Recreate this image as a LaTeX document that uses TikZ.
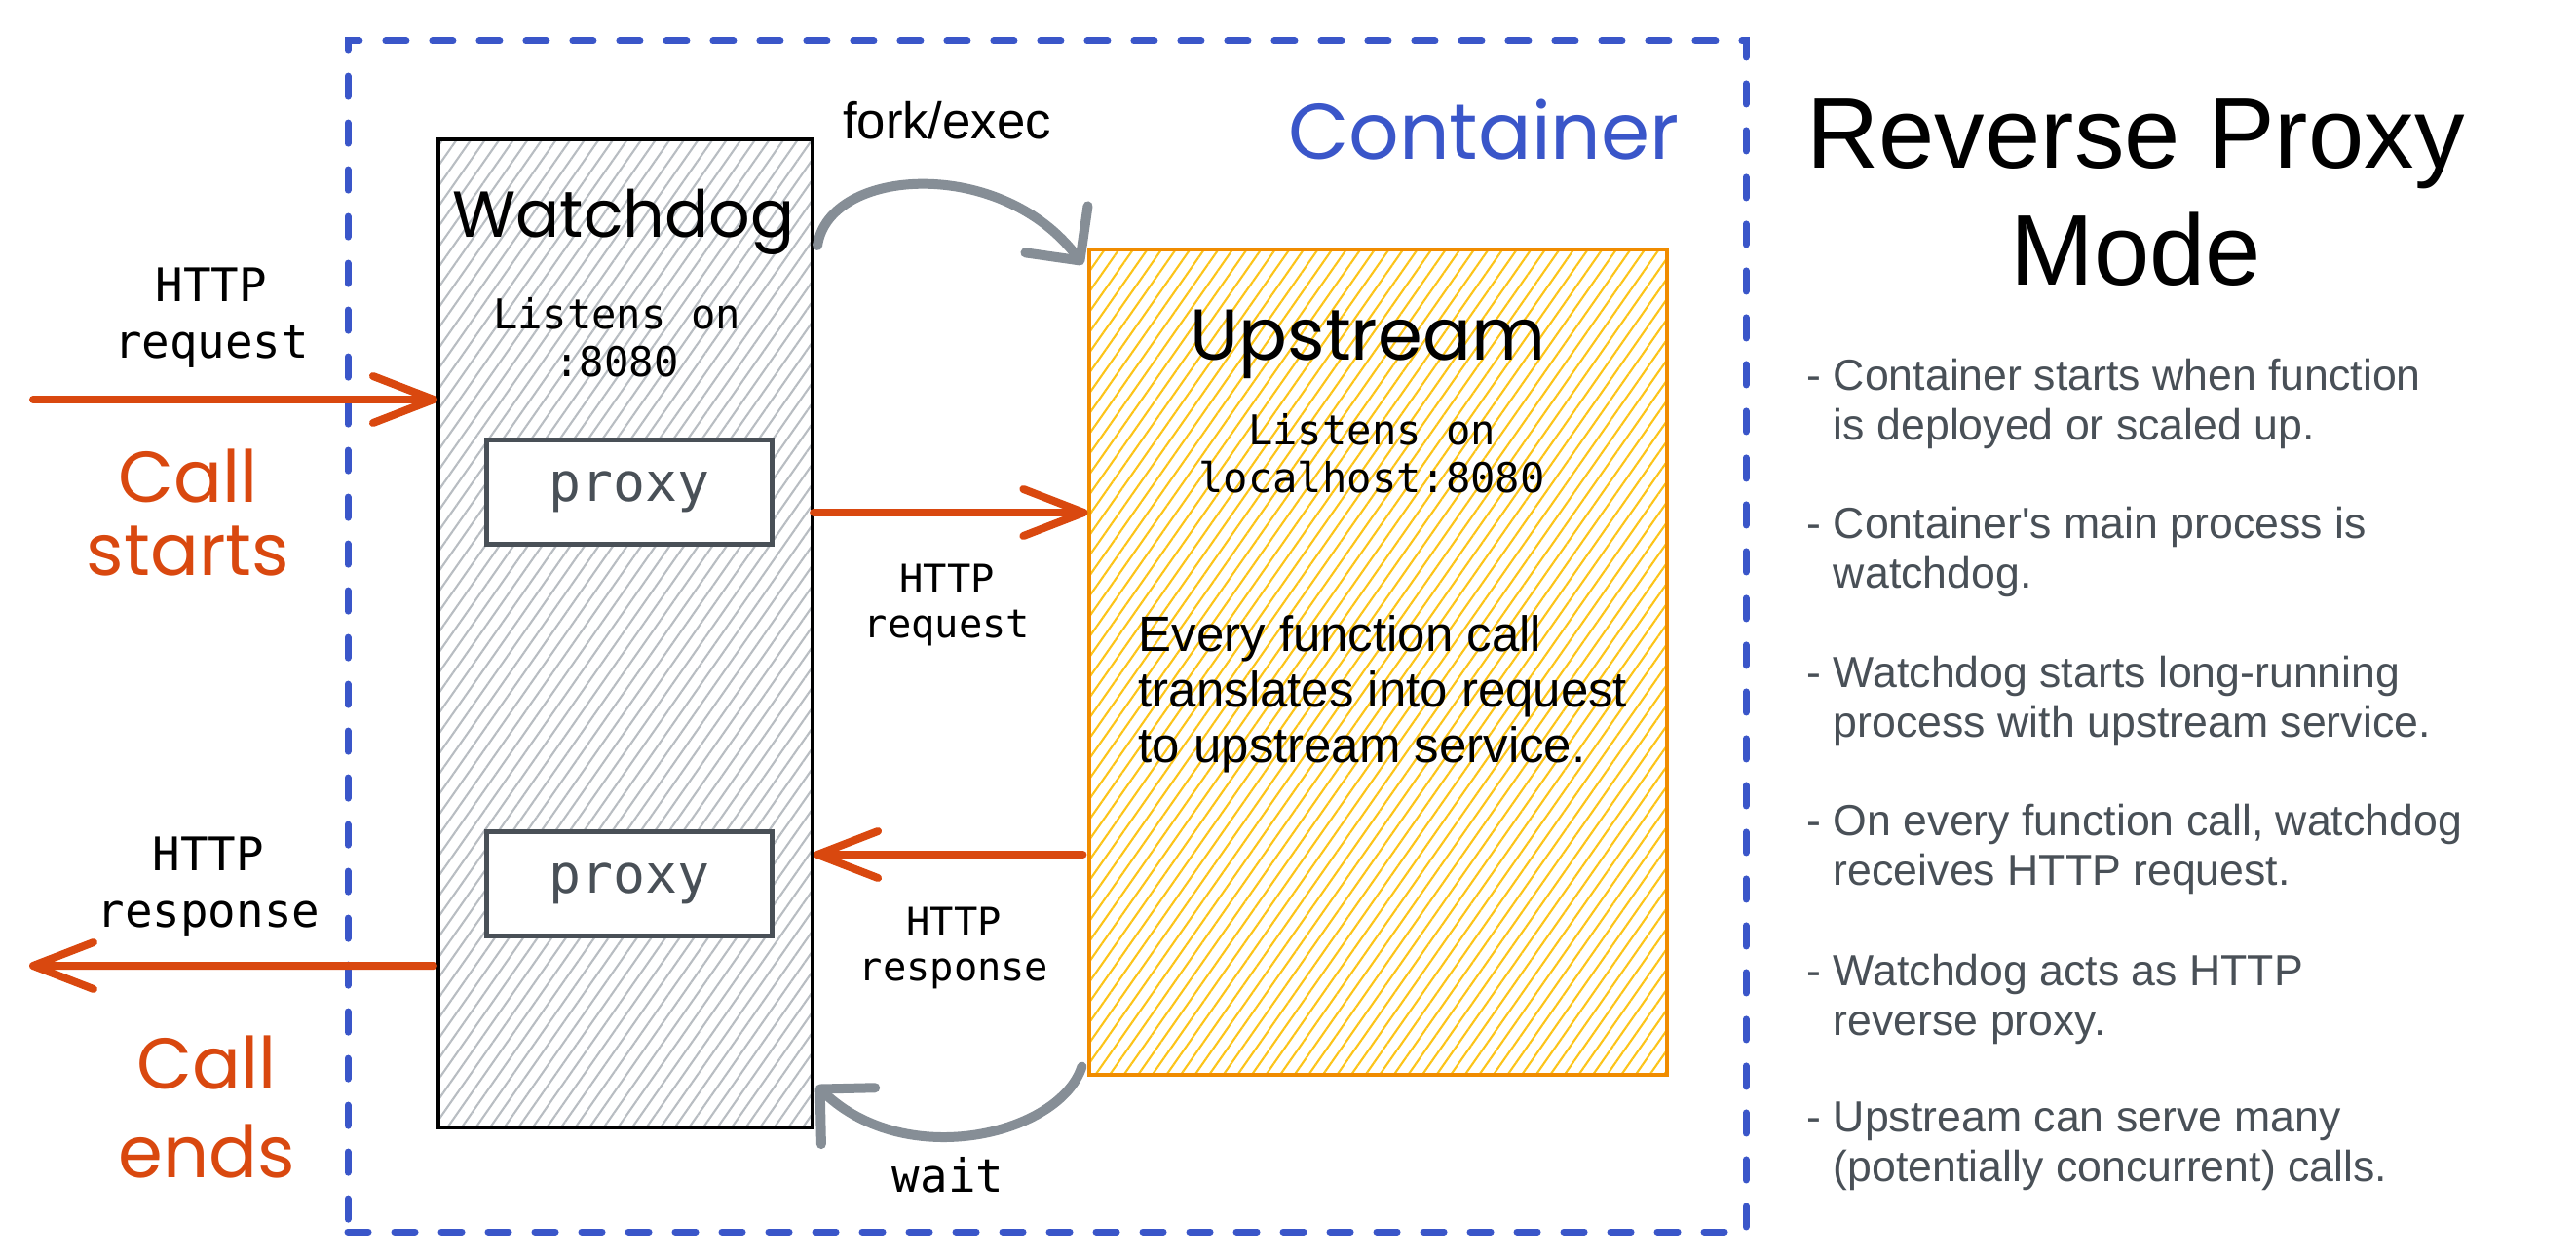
\documentclass[tikz,border=0pt]{standalone}
\usepackage{fontspec}
\setmainfont{Liberation Sans}
\setmonofont{DejaVu Sans Mono}
\newfontfamily\handfont{Poppins}
\usetikzlibrary{arrows.meta,patterns.meta,calc}
\definecolor{ctblue}{HTML}{3A56C9}
\definecolor{callred}{HTML}{D9480F}
\definecolor{arcgray}{HTML}{868E96}
\definecolor{notegray}{HTML}{495057}
\definecolor{upedge}{HTML}{F08C00}
\definecolor{uphatch}{HTML}{FCC419}
\definecolor{wdhatch}{HTML}{B8BDC2}

\begin{document}
\begin{tikzpicture}[
    callarrow/.style={draw=callred, line width=0.08cm, line cap=round,
      -{Straight Barb[round, length=0.62cm, width=0.48cm]}},
    turnarrow/.style={draw=arcgray, line width=0.1cm, line cap=round,
      -{Straight Barb[round, length=0.4cm, width=0.8cm]}},
    httplbl/.style={font=\ttfamily\fontsize{13.5pt}{16.5pt}\selectfont, align=center, inner sep=0},
    smalllbl/.style={font=\ttfamily\fontsize{11.5pt}{13pt}\selectfont, align=center, inner sep=0},
    listen/.style={font=\ttfamily\fontsize{12pt}{14pt}\selectfont, align=center, inner sep=0},
    hand/.style={font=\handfont\fontsize{#1}{#1}\selectfont, inner sep=0},
    callnote/.style={font=\handfont\fontsize{21pt}{21.5pt}\selectfont, text=callred, align=center, inner sep=0},
    proxybox/.style={draw=notegray, line width=1.3pt, fill=white, minimum width=2.93cm,
      minimum height=1.07cm, text=notegray, font=\ttfamily\fontsize{15.6pt}{18pt}\selectfont},
    note/.style={font=\fontsize{12.7pt}{14.5pt}\selectfont, text=notegray, align=left, inner sep=0, anchor=west}
  ]
  \useasboundingbox (0,0) rectangle (26.44,12.92);

  % container
  \node[draw=ctblue, line width=0.07cm, dash pattern=on 0.21cm off 0.27cm, line cap=round,
    minimum width=14.35cm, minimum height=12.22cm] (container) at (10.745,6.39) {};
  \node[hand=23pt, text=ctblue, anchor=base] (containerlbl) at (15.23,11.29) {Container};

  % watchdog process
  \node[draw=black, line width=0.9pt, pattern={Lines[angle=55, distance=3.4pt, line width=0.6pt]},
    pattern color=wdhatch, minimum width=3.84cm, minimum height=10.14cm] (watchdog) at (6.42,6.42) {};
  \node[hand=19pt, anchor=base] (wdtitle) at (6.40,10.49) {Watchdog};
  \node[listen] (wdlisten) at (6.33,9.46) {Listens on\\:8080};
  \node[proxybox] (proxyin) at (6.46,7.87) {proxy};
  \node[proxybox] (proxyout) at (6.46,3.85) {proxy};

  % upstream process
  \node[draw=upedge, line width=0.9pt, pattern={Lines[angle=55, distance=3.4pt, line width=0.6pt]},
    pattern color=uphatch, minimum width=5.93cm, minimum height=8.47cm] (upstream) at (14.145,6.125) {};
  \node[hand=21pt, anchor=base] (uptitle) at (14.04,9.23) {Upstream};
  \node[listen] (uplisten) at (14.08,8.27) {Listens on\\localhost:8080};
  \node[font=\fontsize{14.5pt}{16.2pt}\selectfont, align=left, inner sep=0, anchor=west] (uptext) at (11.68,5.80)
    {Every function call\\translates into request\\to upstream service.};

  % request / response
  \coordinate (callin) at (0.34,8.82);
  \coordinate (callout) at (0.30,3.01);
  \draw[callarrow] (callin) -- (callin -| watchdog.west);
  \draw[callarrow] ([yshift=1.24cm]watchdog.east) -- ([yshift=1.535cm]upstream.west);
  \draw[callarrow] ([xshift=-0.05cm, yshift=-1.975cm]upstream.west) -- ([yshift=-2.27cm]watchdog.east);
  \draw[callarrow] ([xshift=-0.04cm, yshift=-3.41cm]watchdog.west) -- (callout);

  \node[httplbl] (inlbl) at (2.17,9.66) {HTTP\\request};
  \node[httplbl] (outlbl) at (2.14,3.82) {HTTP\\response};
  \node[smalllbl] (reqlbl) at (9.72,6.71) {HTTP\\request};
  \node[smalllbl] (resplbl) at (9.79,3.19) {HTTP\\response};
  \node[callnote] (startlbl) at (1.93,7.66) {Call\\starts};
  \node[callnote] (endlbl) at (2.12,1.56) {Call\\[0.16cm]ends};

  % fork/exec and wait
  \draw[turnarrow] ($(watchdog.north east)+(0.04,-1.10)$) .. controls +(0.12,0.81) and +(-0.83,1.11) .. ($(upstream.north west)+(-0.05,-0.17)$);
  \draw[turnarrow] ($(upstream.south west)+(-0.06,0.10)$) .. controls +(-0.22,-0.69) and +(0.93,-0.89) .. ($(watchdog.south east)+(0.03,0.44)$);
  \node[font=\fontsize{15pt}{18pt}\selectfont, anchor=base, inner sep=0] (forklbl) at (9.72,11.49) {fork/exec};
  \node[font=\ttfamily\fontsize{13.5pt}{16pt}\selectfont, anchor=base, inner sep=0] (waitlbl) at (9.73,0.69) {wait};

  % notes
  \node[font=\fontsize{29.3pt}{34.3pt}\selectfont, align=center, inner sep=0] (title) at (21.92,10.945) {Reverse Proxy\\Mode};
  \node[note] (note1) at (18.54,8.78) {- Container starts when function\\\hphantom{- }is deployed or scaled up.};
  \node[note] (note2) at (18.54,7.26) {- Container\textquotesingle s main process is\\\hphantom{- }watchdog.};
  \node[note] (note3) at (18.54,5.73) {- Watchdog starts long-running\\\hphantom{- }process with upstream service.};
  \node[note] (note4) at (18.54,4.21) {- On every function call, watchdog\\\hphantom{- }receives HTTP request.};
  \node[note] (note5) at (18.54,2.67) {- Watchdog acts as HTTP\\\hphantom{- }reverse proxy.};
  \node[note] (note6) at (18.54,1.16) {- Upstream can serve many\\\hphantom{- }(potentially concurrent) calls.};
\end{tikzpicture}
\end{document}
